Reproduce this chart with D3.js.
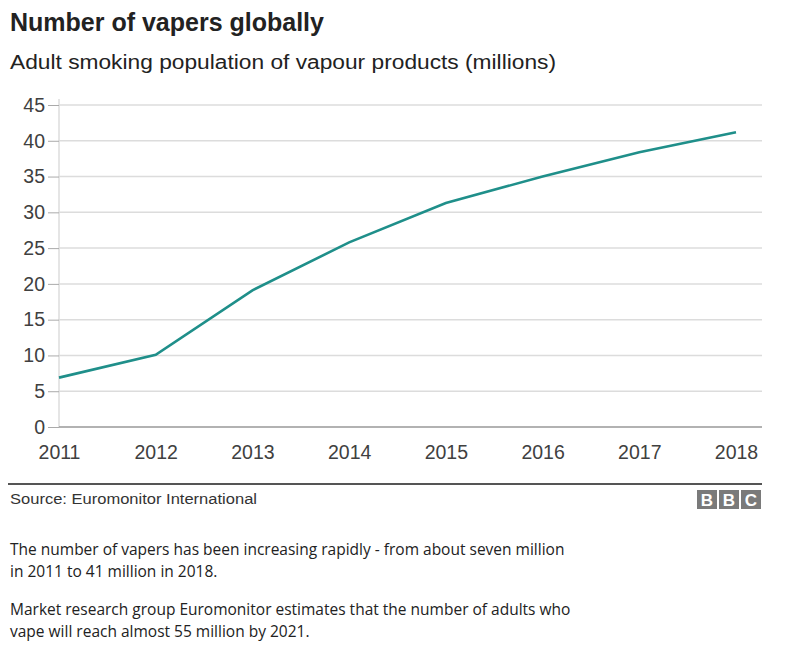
<!DOCTYPE html>
<html>
<head>
<meta charset="utf-8">
<script src="https://cdn.jsdelivr.net/npm/d3@7"></script>
<style>
  body { margin: 0; background: #fff; }
  svg { display: block; }
</style>
</head>
<body>
<svg id="chart" width="800" height="649"></svg>
<script>
// data
const years = [2011, 2012, 2013, 2014, 2015, 2016, 2017, 2018];
const vapers = [6.9, 10.1, 19.1, 25.8, 31.3, 35.0, 38.4, 41.2];
const yTicks = [0, 5, 10, 15, 20, 25, 30, 35, 40, 45];

const title = 'Number of vapers globally';
const subtitle = 'Adult smoking population of vapour products (millions)';
const source = 'Source: Euromonitor International';
const paragraphs = [
  ['The number of vapers has been increasing rapidly - from about seven million',
   'in 2011 to 41 million in 2018.'],
  ['Market research group Euromonitor estimates that the number of adults who',
   'vape will reach almost 55 million by 2021.']
];

const svg = d3.select('#chart');
const font = '"Liberation Sans", Arial, Helvetica, sans-serif';

svg.append('text')
  .attr('x', 10).attr('y', 31)
  .attr('font-family', font).attr('font-weight', 'bold')
  .attr('font-size', 25).attr('fill', '#222')
  .text(title);

svg.append('text')
  .attr('x', 10).attr('y', 69)
  .attr('font-family', font)
  .attr('font-size', 20).attr('fill', '#222')
  .attr('textLength', 546).attr('lengthAdjust', 'spacingAndGlyphs')
  .text(subtitle);

// plot area
const x = d3.scalePoint().domain(years).range([59, 736]);
const y = d3.scaleLinear().domain([0, 45]).range([427, 105]);
const right = 762;

// grid
svg.append('g')
  .selectAll('line')
  .data(yTicks.filter(d => d > 0))
  .join('line')
  .attr('x1', x(years[0])).attr('x2', right)
  .attr('y1', d => y(d)).attr('y2', d => y(d))
  .attr('stroke', '#dcdcdc').attr('stroke-width', 1.5);

// y axis
const yAxis = svg.append('g')
  .attr('transform', `translate(${x(years[0])},0)`)
  .call(d3.axisLeft(y).tickValues(yTicks).tickSize(11).tickPadding(3));
yAxis.select('.domain').attr('stroke', '#dcdcdc').attr('stroke-width', 1.5)
  .attr('d', `M0,${y(0)}V${y(45) - 6}`);
yAxis.selectAll('.tick line').attr('stroke', '#aaa');
yAxis.selectAll('.tick text')
  .attr('font-family', font).attr('font-size', 19.5).attr('fill', '#404040');

// x axis
const xAxis = svg.append('g')
  .attr('transform', `translate(0,${y(0)})`)
  .call(d3.axisBottom(x).tickSize(0).tickPadding(18).tickFormat(d3.format('d')));
xAxis.select('.domain').attr('stroke', '#999').attr('stroke-width', 1.5)
  .attr('d', `M${x(years[0])},0H${right}`);
xAxis.selectAll('.tick text')
  .attr('font-family', font).attr('font-size', 19.5).attr('fill', '#404040');

// line
const line = d3.line()
  .x((d, i) => x(years[i]))
  .y(d => y(d));

svg.append('path')
  .datum(vapers)
  .attr('d', line)
  .attr('fill', 'none')
  .attr('stroke', '#1f8f8a')
  .attr('stroke-width', 2.6);

// footer
svg.append('line')
  .attr('x1', 8).attr('x2', right)
  .attr('y1', 484).attr('y2', 484)
  .attr('stroke', '#555').attr('stroke-width', 2);

svg.append('text')
  .attr('x', 10).attr('y', 504)
  .attr('font-family', font)
  .attr('font-size', 15.5).attr('fill', '#333')
  .attr('textLength', 247).attr('lengthAdjust', 'spacingAndGlyphs')
  .text(source);

const logo = svg.append('g').attr('transform', 'translate(697,490)');
['B', 'B', 'C'].forEach((ch, i) => {
  logo.append('rect')
    .attr('x', i * 22).attr('y', 0)
    .attr('width', 20).attr('height', 19)
    .attr('fill', '#7a7a7a');
  logo.append('text')
    .attr('x', i * 22 + 10).attr('y', 16)
    .attr('text-anchor', 'middle')
    .attr('font-family', font).attr('font-weight', 'bold')
    .attr('font-size', 17).attr('fill', '#fff')
    .text(ch);
});

// body text
const bodyFont = '"Open Sans", "Noto Sans", sans-serif';
const lineY = [[555, 577], [615, 637]];
paragraphs.forEach((p, pi) => {
  p.forEach((t, li) => {
    svg.append('text')
      .attr('x', 10).attr('y', lineY[pi][li])
      .attr('font-family', bodyFont)
      .attr('font-size', 15.5).attr('fill', '#222')
      .text(t);
  });
});
</script>
</body>
</html>
